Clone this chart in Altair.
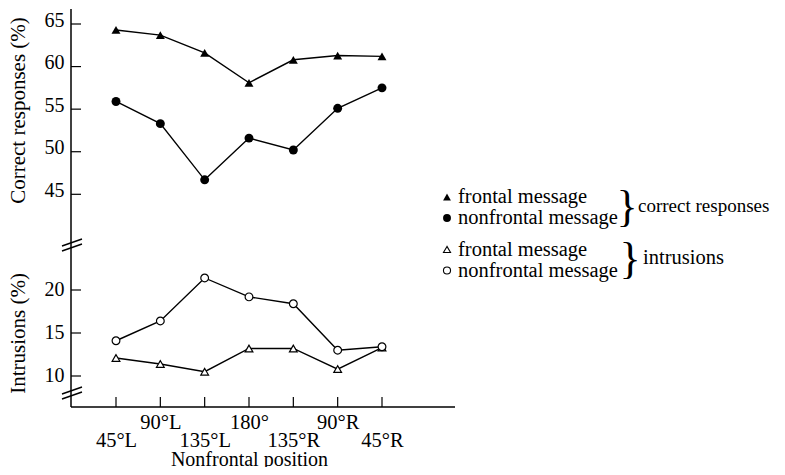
import json
import altair as alt
import pandas as pd

# ---------------- data ----------------
positions = ["45°L", "90°L", "135°L", "180°", "135°R", "90°R", "45°R"]
series_names = ["frontal message", "nonfrontal message"]

correct_frontal = [64.3, 63.7, 61.6, 58.1, 60.8, 61.3, 61.2]
correct_nonfrontal = [55.9, 53.3, 46.7, 51.6, 50.2, 55.1, 57.5]
intrusion_frontal = [12.1, 11.4, 10.5, 13.2, 13.2, 10.8, 13.3]
intrusion_nonfrontal = [14.1, 16.4, 21.4, 19.2, 18.4, 13.0, 13.4]

correct_ticks = [45, 50, 55, 60, 65]
intrusion_ticks = [10, 15, 20]

group_labels = ["correct responses", "intrusions"]

# ---------------- tables ----------------
correct_df = pd.DataFrame({
    "position": positions * 2,
    "series": [series_names[0]] * 7 + [series_names[1]] * 7,
    "value": correct_frontal + correct_nonfrontal,
})
intr_df = pd.DataFrame({
    "position": positions * 2,
    "series": [series_names[0]] * 7 + [series_names[1]] * 7,
    "value": intrusion_frontal + intrusion_nonfrontal,
})
pos_df = pd.DataFrame({"position": positions})
ctick_df = pd.DataFrame({"value": correct_ticks})
itick_df = pd.DataFrame({"value": intrusion_ticks})
one = pd.DataFrame({"k": [0]})

FONT = "Liberation Serif"
W, H = 700, 398

x_scale = alt.Scale(type="point", domain=positions, range=[45, 311], padding=0)
shape_scale = alt.Scale(domain=series_names, range=["triangle-up", "circle"])
top_scale = alt.Scale(domain=[45, 65], range=[185.3, 15], nice=False, zero=False)
bot_scale = alt.Scale(domain=[10, 20], range=[367, 281], nice=False, zero=False)

upper_js = json.dumps(positions[1::2], ensure_ascii=False).replace('"', "'")
x_axis = alt.Axis(
    domain=False, ticks=False, tickSize=0, grid=False,
    labelExpr=f"indexof({upper_js}, datum.value) >= 0 ? datum.label : [' ', datum.label]",
    labelBaseline="alphabetic", labelPadding=21, labelLineHeight=18,
    labelFont=FONT, labelFontSize=20.5, labelColor="black", labelAngle=0,
    labelOverlap=False, labelBound=False,
    title="Nonfrontal position", titleFont=FONT, titleFontSize=20,
    titleFontWeight="normal", titleColor="black",
    titleX=178, titleY=58, titleAlign="center", titleBaseline="alphabetic",
)


def y_axis(title, ticks, label_offset, title_y):
    return alt.Axis(
        orient="left", values=ticks, domain=False, ticks=False, tickSize=0,
        grid=False, labelPadding=7, labelOffset=label_offset,
        labelFont=FONT, labelFontSize=20, labelColor="black",
        title=title, titleFont=FONT, titleFontSize=21,
        titleFontWeight="normal", titleColor="black",
        titleAngle=270, titleX=-53, titleY=title_y,
        titleAlign="center", titleBaseline="middle",
    )


top_axis = y_axis("Correct responses (%)", correct_ticks, -4, 101)
bot_axis = y_axis("Intrusions (%)", intrusion_ticks, -1, 324)
X = alt.X("position:N", scale=x_scale, axis=x_axis)

# ---------------- top panel: correct responses ----------------
top_ticks = alt.Chart(ctick_df).mark_rule(color="black", strokeWidth=1.2).encode(
    y=alt.Y("value:Q", scale=top_scale, axis=top_axis),
    x=alt.value(0), x2=alt.value(10),
)
top_lines = alt.Chart(correct_df).mark_line(color="black", strokeWidth=1.4).encode(
    x=X,
    y=alt.Y("value:Q", scale=top_scale, axis=top_axis),
    detail="series:N",
)
top_points = alt.Chart(correct_df).mark_point(
    filled=True, color="black", size=80, opacity=1
).encode(
    x=X,
    y=alt.Y("value:Q", scale=top_scale, axis=top_axis),
    shape=alt.Shape("series:N", scale=shape_scale, legend=None),
)
top = alt.layer(top_ticks, top_lines, top_points)

# ---------------- bottom panel: intrusions ----------------
bot_ticks = alt.Chart(itick_df).mark_rule(color="black", strokeWidth=1.2).encode(
    y=alt.Y("value:Q", scale=bot_scale, axis=bot_axis),
    x=alt.value(0), x2=alt.value(10),
)
bot_lines = alt.Chart(intr_df).mark_line(color="black", strokeWidth=1.4).encode(
    x=X,
    y=alt.Y("value:Q", scale=bot_scale, axis=bot_axis),
    detail="series:N",
)
bot_points = alt.Chart(intr_df).mark_point(
    filled=True, fill="white", stroke="black", strokeWidth=1.2, size=60, opacity=1
).encode(
    x=X,
    y=alt.Y("value:Q", scale=bot_scale, axis=bot_axis),
    shape=alt.Shape("series:N", scale=shape_scale, legend=None),
)
bot = alt.layer(bot_ticks, bot_lines, bot_points)

# ---------------- axes frame, ticks, breaks ----------------
x_ticks = alt.Chart(pos_df).mark_rule(color="black", strokeWidth=1.2).encode(
    x=X, y=alt.value(H - 10), y2=alt.value(H),
)
y_line = alt.Chart(one).mark_rule(color="black", strokeWidth=1.5).encode(
    x=alt.value(0), y=alt.value(0), y2=alt.value(H)
)
x_line = alt.Chart(one).mark_rule(color="black", strokeWidth=1.5).encode(
    x=alt.value(0), x2=alt.value(384), y=alt.value(H)
)

breaks = []
for c in (233.5, 238.5, 381.5, 386.5):
    breaks.append(
        alt.Chart(one).mark_rule(color="black", strokeWidth=1.4).encode(
            x=alt.value(-9), x2=alt.value(11),
            y=alt.value(c + 3.5), y2=alt.value(c - 3.5),
        )
    )

# ---------------- legend ----------------
legend_layers = []
legend_rows = [
    (series_names[0], "triangle-up", True, 188),
    (series_names[1], "circle", True, 209),
    (series_names[0], "triangle-up", False, 240.5),
    (series_names[1], "circle", False, 261.5),
]
for label, shp, filled, yy in legend_rows:
    if filled:
        sym = alt.Chart(one).mark_point(
            shape=shp, filled=True, color="black", size=62, opacity=1)
    else:
        sym = alt.Chart(one).mark_point(
            shape=shp, filled=True, fill="white", stroke="black",
            strokeWidth=1.1, size=50, opacity=1)
    legend_layers.append(sym.encode(x=alt.value(376), y=alt.value(yy)))
    legend_layers.append(
        alt.Chart(one).mark_text(
            text=label, font=FONT, fontSize=20.5, align="left",
            baseline="middle", color="black"
        ).encode(x=alt.value(387), y=alt.value(yy))
    )

for glabel, bx, by, tx, fs in ((group_labels[0], 556, 198.5, 567, 19),
                               (group_labels[1], 559, 251, 572, 20.5)):
    legend_layers.append(
        alt.Chart(one).mark_text(
            text="}", font=FONT, fontSize=44, align="center",
            baseline="middle", color="black"
        ).encode(x=alt.value(bx), y=alt.value(by))
    )
    legend_layers.append(
        alt.Chart(one).mark_text(
            text=glabel, font=FONT, fontSize=fs, align="left",
            baseline="middle", color="black"
        ).encode(x=alt.value(tx), y=alt.value(by - 2))
    )

chart = (
    alt.layer(top, bot, x_ticks, y_line, x_line, *breaks, *legend_layers)
    .resolve_scale(y="independent")
    .resolve_axis(y="independent")
    .properties(
        width=W, height=H,
        padding={"left": 63, "top": 1, "right": 6, "bottom": 60},
        autosize=alt.AutoSizeParams(type="none"),
        background="white",
    )
    .configure_view(stroke=None)
)

chart.save("out.html", embed_options={"renderer": "svg", "actions": False})
